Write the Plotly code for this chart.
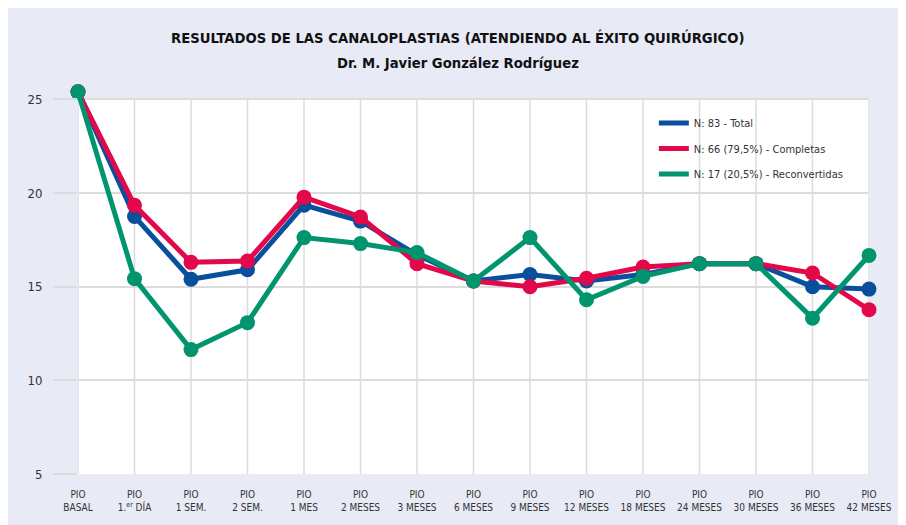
import plotly.graph_objects as go

categories = ["PIO<br>BASAL", "PIO<br>1.<sup>er</sup> DÍA", "PIO<br>1 SEM.", "PIO<br>2 SEM.", "PIO<br>1 MES",
              "PIO<br>2 MESES", "PIO<br>3 MESES", "PIO<br>6 MESES", "PIO<br>9 MESES", "PIO<br>12 MESES",
              "PIO<br>18 MESES", "PIO<br>24 MESES", "PIO<br>30 MESES", "PIO<br>36 MESES", "PIO<br>42 MESES"]

total = [25.4, 18.75, 15.4, 15.9, 19.35, 18.5, 16.7, 15.3, 15.65, 15.3, 15.65, 16.23, 16.23, 15.0, 14.87]
completas = [25.4, 19.35, 16.3, 16.37, 19.78, 18.72, 16.23, 15.3, 15.0, 15.45, 16.05, 16.23, 16.23, 15.73, 13.77]
reconvertidas = [25.4, 15.43, 11.64, 13.08, 17.62, 17.3, 16.82, 15.3, 17.62, 14.3, 15.55, 16.23, 16.23, 13.32, 16.67]

names = ["N: 83 - Total", "N: 66 (79,5%) - Completas", "N: 17 (20,5%) - Reconvertidas"]
colors = ["#0a4f9e", "#e2084a", "#00956f"]
series = [total, completas, reconvertidas]

y_ticks = [5, 10, 15, 20, 25]
y_min, y_max = 5, 25

FONT = "Liberation Sans Narrow, DejaVu Sans Condensed, Arial Narrow, sans-serif"
BG = "#e8eaf6"
GRID = "#dcdcdc"

x_idx = list(range(len(categories)))

fig = go.Figure()
for name, col, vals in zip(names, colors, series):
    fig.add_trace(go.Scatter(
        x=x_idx, y=vals, mode="lines+markers", name=name, showlegend=False,
        line=dict(color=col, width=5), marker=dict(color=col, size=15),
        cliponaxis=False))
for name, col in zip(names, colors):
    fig.add_trace(go.Scatter(
        x=[None], y=[None], mode="lines", name=name, legendgroup=name,
        line=dict(color=col, width=5)))

# white plotting region between 5 and 25
fig.add_shape(type="rect", xref="paper", yref="y", x0=0, x1=1, y0=y_min, y1=y_max,
              fillcolor="white", line=dict(width=0), layer="below")
# vertical grid lines at each category
for i in x_idx:
    fig.add_shape(type="line", xref="x", yref="y", x0=i, x1=i, y0=y_min, y1=y_max,
                  line=dict(color=GRID, width=1.5), layer="below")
# legend box
fig.add_shape(type="rect", xref="paper", yref="paper", x0=0.7165, x1=0.998,
              y0=0.755, y1=0.958, fillcolor="white", line=dict(width=0), layer="between")

fig.add_annotation(text="<b>RESULTADOS DE LAS CANALOPLASTIAS (ATENDIENDO AL ÉXITO QUIRÚRGICO)</b>",
                   xref="paper", yref="paper", x=0.4804, y=1.138, xanchor="center", yanchor="middle",
                   showarrow=False, font=dict(family=FONT, size=14.7, color="#111111"))
fig.add_annotation(text="<b>Dr. M. Javier González Rodríguez</b>",
                   xref="paper", yref="paper", x=0.4804, y=1.0716, xanchor="center", yanchor="middle",
                   showarrow=False, font=dict(family=FONT, size=14.7, color="#111111"))

fig.update_layout(
    width=906, height=525,
    margin=dict(l=70, r=45, t=82, b=59),
    paper_bgcolor=BG, plot_bgcolor=BG,
    font=dict(family=FONT, color="#333333"),
    legend=dict(x=0.728, y=0.952, xanchor="left", yanchor="top", bgcolor="rgba(0,0,0,0)",
                font=dict(family=FONT, size=11, color="#333333"),
                traceorder="grouped", tracegroupgap=6.5),
    xaxis=dict(range=[0, 14], tickmode="array", tickvals=x_idx, ticktext=categories,
               showgrid=False, zeroline=False, showline=False,
               ticks="outside", ticklen=11, tickcolor="rgba(0,0,0,0)",
               tickfont=dict(family=FONT, size=10, color="#333333")),
    yaxis=dict(range=[y_min, 25.5], tickmode="array", tickvals=y_ticks,
               showgrid=True, gridcolor=GRID, gridwidth=1.5, zeroline=False, showline=False,
               ticks="outside", ticklen=24, tickwidth=1.5, tickcolor=GRID, ticklabelstandoff=8,
               tickfont=dict(family=FONT, size=13, color="#333333")),
)

fig.write_html("out.html")
